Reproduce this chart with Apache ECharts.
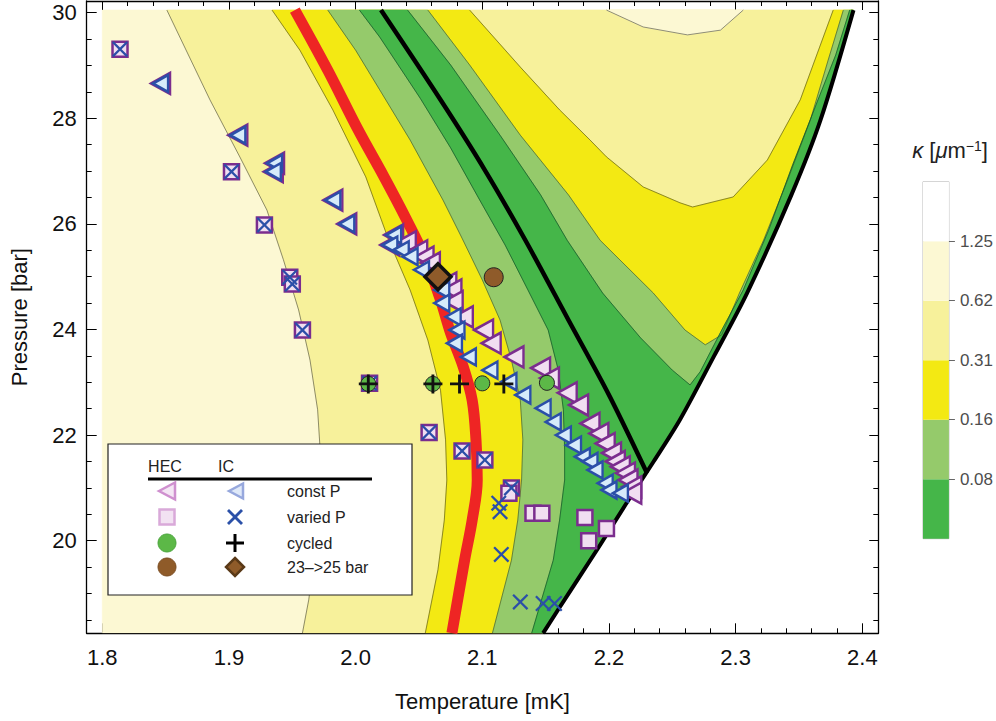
<!DOCTYPE html>
<html><head><meta charset="utf-8">
<script src="https://cdn.jsdelivr.net/npm/echarts@6/dist/echarts.min.js"></script>
<style>html,body{margin:0;padding:0;background:#fff}#c{width:996px;height:721px}</style>
</head><body><div id="c"></div><script>
// ---------- axis ranges & ticks ----------
const X_MIN = 1.7877, X_MAX = 2.4126, Y_MIN = 18.246, Y_MAX = 30.222;
const xMajor = [1.8, 1.9, 2.0, 2.1, 2.2, 2.3, 2.4];
const yMajor = [20, 22, 24, 26, 28, 30];
const cbLabels = ['0.08', '0.16', '0.31', '0.62', '1.25'];
const cbColors = ['#45b649', '#95ca6b', '#f3e913', '#f7f19b', '#fcf8d3', '#ffffff'];
const cbSegments = [1, 1, 1, 1, 1, 1];

// ---------- contour lines (T [mK], P [bar]) ----------
const boundary = [[2.148,18.25],[2.170,19.07],[2.192,19.88],[2.213,20.68],[2.235,21.49],[2.256,22.29],[2.283,23.50],[2.309,24.69],[2.344,26.55],[2.367,27.97],[2.393,30.05]];
const c062L = [[1.851,30.05],[1.868,29.20],[1.885,28.35],[1.909,27.25],[1.930,26.26],[1.943,25.32],[1.955,24.37],[1.964,23.42],[1.970,22.48],[1.972,21.72],[1.970,20.77],[1.967,19.63],[1.963,18.88],[1.958,18.25]];
const c031L = [[1.934,30.05],[1.956,29.29],[1.982,28.16],[2.008,26.89],[2.026,25.70],[2.043,24.75],[2.057,23.80],[2.067,22.85],[2.071,21.91],[2.072,21.15],[2.070,20.39],[2.065,19.45],[2.055,18.25]];
const c016L = [[1.978,30.05],[2.000,29.29],[2.019,28.54],[2.043,27.59],[2.069,26.45],[2.084,25.73],[2.100,24.94],[2.114,24.18],[2.123,23.42],[2.130,22.66],[2.132,21.91],[2.131,21.15],[2.128,20.39],[2.123,19.63],[2.108,18.25]];
const c008L = [[2.003,30.05],[2.019,29.54],[2.051,28.38],[2.075,27.44],[2.098,26.45],[2.118,25.60],[2.136,24.75],[2.152,23.99],[2.160,23.23],[2.164,22.48],[2.165,21.72],[2.165,21.15],[2.161,20.39],[2.156,19.63],[2.139,18.25]];
const c062R = [[2.198,30.05],[2.227,29.73],[2.262,29.58],[2.288,29.67],[2.306,30.05]];
const c031R = [[2.090,30.05],[2.130,28.97],[2.161,28.16],[2.185,27.59],[2.198,27.27],[2.227,26.70],[2.256,26.40],[2.266,26.32],[2.298,26.51],[2.325,27.21],[2.351,28.35],[2.377,30.05]];
const c016R = [[2.057,30.05],[2.090,29.01],[2.130,27.68],[2.168,26.55],[2.193,25.69],[2.235,24.69],[2.260,23.99],[2.276,23.71],[2.289,23.90],[2.303,24.69],[2.322,25.69],[2.341,26.83],[2.359,27.97],[2.373,29.10],[2.385,30.05]];
const c008R = [[2.041,30.05],[2.075,29.01],[2.114,27.68],[2.146,26.55],[2.167,25.69],[2.195,24.69],[2.225,23.84],[2.250,23.23],[2.264,22.95],[2.272,23.20],[2.289,23.99],[2.306,24.75],[2.326,25.88],[2.345,27.12],[2.365,28.35],[2.379,29.20],[2.390,30.05]];
const blackLine = [[2.020,30.05],[2.067,28.35],[2.102,27.02],[2.134,25.69],[2.168,24.18],[2.200,22.76],[2.230,21.28]];
const redLine = [[1.952,30.05],[1.978,28.91],[2.002,27.78],[2.022,26.91],[2.040,26.09],[2.055,25.35],[2.067,24.56],[2.075,23.93],[2.085,23.29],[2.092,22.66],[2.095,21.91],[2.096,21.15],[2.092,20.39],[2.086,19.63],[2.076,18.25]];

// ---------- measured points ----------
const hecConstP = [[1.846,28.66],[1.907,27.68],[1.936,27.15],[1.935,26.99],[1.982,26.45],[1.993,26.00],[2.030,25.79],[2.027,25.60],
  [2.040,25.66],[2.049,25.49],[2.054,25.37],[2.059,25.26],[2.072,24.88],[2.076,24.75],[2.077,24.53],[2.085,24.24],[2.101,23.99],[2.107,23.74],[2.125,23.48],[2.146,23.27],[2.153,23.08],[2.167,22.80],[2.176,22.57],[2.185,22.22],[2.192,22.03],[2.197,21.84],[2.202,21.66],[2.205,21.50],[2.209,21.40],[2.213,21.28],[2.215,21.15],[2.218,21.02],[2.218,20.90]];
const icConstP = [[1.846,28.66],[1.907,27.68],[1.936,27.15],[1.935,26.99],[1.982,26.45],[1.993,26.00],[2.030,25.79],[2.027,25.60],
  [2.036,25.51],[2.043,25.38],[2.052,25.13],[2.068,24.75],[2.068,24.50],[2.077,24.24],[2.080,23.99],[2.078,23.74],[2.089,23.48],[2.106,23.23],[2.121,23.01],[2.132,22.76],[2.148,22.51],[2.156,22.25],[2.164,22.00],[2.172,21.81],[2.179,21.59],[2.185,21.50],[2.189,21.34],[2.197,21.09],[2.200,20.96],[2.209,20.90]];
const hecVariedP = [[1.814,29.31],[1.902,26.99],[1.928,25.98],[1.948,24.99],[1.950,24.86],[1.958,23.99],[2.011,22.98],[2.058,22.05],[2.084,21.70],[2.102,21.53],[2.123,21.00],[2.121,20.90],[2.140,20.52],[2.147,20.52],[2.181,20.44],[2.184,20.00],[2.198,20.23]];
const icVariedP = [[1.814,29.31],[1.902,26.99],[1.928,25.98],[1.948,24.99],[1.950,24.86],[1.958,23.99],[2.011,22.98],[2.058,22.05],[2.084,21.70],[2.102,21.53],[2.123,21.00],[2.113,20.71],[2.114,20.55],[2.115,19.74],[2.130,18.84],[2.148,18.81],[2.157,18.81]];
const hecCycled = [[2.010,22.97],[2.061,22.97],[2.100,22.98],[2.151,22.99]];
const icCycled = [[2.010,22.97],[2.061,22.97],[2.082,22.97],[2.117,22.97]];
const hec2325 = [[2.109,24.99]];
const ic2325 = [[2.065,25.00]];

// ---------- helpers ----------
const FONT = 'Liberation Sans, Arial, sans-serif';
function range(a, b, s) { const r = []; for (let v = a; v <= b + 1e-9; v += s) r.push(+v.toFixed(4)); return r; }
const xMinor = range(1.8, 2.4, 0.02).filter(v => !xMajor.some(m => Math.abs(m - v) < 1e-6));
const yMinor = range(18.5, 30, 0.5).filter(v => !yMajor.some(m => Math.abs(m - v) < 1e-6));
const rev = a => a.slice().reverse();
const cbTicks = cbLabels.map((_, i) => cbSegments.slice(0, i + 1).reduce((a, b) => a + b, 0));

const domainPoly = [[1.8,18.25],[1.8,30.05]].concat(rev(boundary));
const poly062 = c062L.concat(boundary);
const poly031 = c031L.concat(boundary, rev(c031R));
const poly016 = c016L.concat(boundary, rev(c016R));
const poly008 = c008L.concat(boundary, rev(c008R));

function polySeries(points, color) {
  return { type: 'custom', xAxisIndex: 0, yAxisIndex: 0, silent: true, clip: true, data: [[2.0, 24]],
    renderItem: (p, api) => ({ type: 'polygon', shape: { points: points.map(pt => api.coord(pt)) },
      style: { fill: color, stroke: color, lineWidth: 0.6 } }) };
}
function lineSeries(data, color, width, z, smooth) {
  return { type: 'line', data: data, symbol: 'none', silent: true, z: z || 3, clip: true, smooth: smooth || false,
    lineStyle: { color: color, width: width, cap: 'butt', join: 'round' } };
}
const triPath = 'path://M0,10 L18,0 L18,20 Z';
const xPath = 'path://M0,2 L2,0 L10,8 L18,0 L20,2 L12,10 L20,18 L18,20 L10,12 L2,20 L0,18 L8,10 Z';
const plusPath = 'path://M8.5,0 H11.5 V8.5 H20 V11.5 H11.5 V20 H8.5 V11.5 H0 V8.5 H8.5 Z';

function tickAxis(pos, isX, vals, len, withLine) {
  return { type: 'value', gridIndex: 0, position: pos, min: isX ? X_MIN : Y_MIN, max: isX ? X_MAX : Y_MAX,
    axisLine: { show: !!withLine, onZero: false, lineStyle: { color: '#000', width: 1.3 } },
    axisTick: { show: true, inside: true, length: len, customValues: vals, lineStyle: { color: '#000', width: 1 } },
    axisLabel: { show: false }, splitLine: { show: false } };
}

const xAxes = [
  Object.assign(tickAxis('bottom', true, xMajor, 10, true), {
    axisLabel: { show: true, customValues: xMajor, formatter: v => v.toFixed(1), fontSize: 22, color: '#111', fontFamily: FONT, margin: 13 },
    name: 'Temperature [mK]', nameLocation: 'middle', nameGap: 57,
    nameTextStyle: { fontSize: 22, color: '#111', fontFamily: FONT } }),
  tickAxis('bottom', true, xMinor, 5, false),
  tickAxis('top', true, xMajor, 9, true),
  tickAxis('top', true, xMinor, 5, false),
  { type: 'category', gridIndex: 1, data: [''], show: false }
];
const yAxes = [
  Object.assign(tickAxis('left', false, yMajor, 10, true), {
    axisLabel: { show: true, customValues: yMajor, formatter: v => String(Math.round(v)), fontSize: 22, color: '#111', fontFamily: FONT, margin: 10 },
    name: 'Pressure [bar]', nameLocation: 'middle', nameGap: 56,
    nameTextStyle: { fontSize: 22, color: '#111', fontFamily: FONT } }),
  tickAxis('left', false, yMinor, 5, false),
  tickAxis('right', false, yMajor, 9, true),
  tickAxis('right', false, yMinor, 5, false),
  { type: 'value', gridIndex: 1, position: 'right', min: 0, max: cbSegments.reduce((a, b) => a + b, 0),
    axisLine: { show: false },
    axisTick: { show: true, length: 6, customValues: cbTicks, lineStyle: { color: '#666' } },
    axisLabel: { show: true, customValues: cbTicks, margin: 11,
      formatter: v => cbLabels[cbTicks.findIndex(t => Math.abs(t - v) < 1e-6)], fontSize: 17, color: '#4d4d4d', fontFamily: FONT },
    splitLine: { show: false } }
];

const series = [
  polySeries(domainPoly, '#fcf8d3'),
  polySeries(poly062, '#f7f19b'),
  polySeries(c062R, '#fcf8d3'),
  polySeries(poly031, '#f3e913'),
  polySeries(poly016, '#95ca6b'),
  polySeries(poly008, '#45b649'),
  lineSeries(c062L, 'rgba(70,70,60,0.6)', 1),
  lineSeries(c031L, 'rgba(70,70,30,0.6)', 1),
  lineSeries(c016L, 'rgba(60,80,30,0.6)', 1),
  lineSeries(c008L, 'rgba(20,80,40,0.7)', 1),
  lineSeries(c062R, 'rgba(70,70,60,0.6)', 1),
  lineSeries(c031R, 'rgba(70,70,30,0.6)', 1),
  lineSeries(c016R, 'rgba(60,80,30,0.6)', 1),
  lineSeries(c008R, 'rgba(20,80,40,0.7)', 1),
  lineSeries(blackLine, '#000', 4.5, 4, 0.3),
  lineSeries(redLine, '#ee2524', 11, 4, 0.35),
  lineSeries(boundary, '#000', 4, 4, 0.3),
  { type: 'scatter', name: 'HEC const P', data: hecConstP, symbol: triPath, symbolSize: [19, 21], z: 5,
    itemStyle: { color: '#f1def1', borderColor: '#7b2d8e', borderWidth: 2.5, opacity: 1 } },
  { type: 'scatter', name: 'IC const P', data: icConstP, symbol: triPath, symbolSize: [15, 17], z: 6,
    itemStyle: { color: '#d6ebfa', borderColor: '#2b4fa8', borderWidth: 2.5, opacity: 1 } },
  { type: 'scatter', name: 'HEC varied P', data: hecVariedP, symbol: 'rect', symbolSize: 15, z: 7,
    itemStyle: { color: '#f1def1', borderColor: '#7b2d8e', borderWidth: 2.5, opacity: 1 } },
  { type: 'scatter', name: 'IC varied P', data: icVariedP, symbol: xPath, symbolSize: 16, z: 8,
    itemStyle: { color: '#2b4fa8', opacity: 1 } },
  { type: 'scatter', name: 'HEC cycled', data: hecCycled, symbol: 'circle', symbolSize: 15, z: 9,
    itemStyle: { color: '#5cb847', borderColor: '#222', borderWidth: 1, opacity: 1 } },
  { type: 'scatter', name: 'IC cycled', data: icCycled, symbol: plusPath, symbolSize: 19, z: 10,
    itemStyle: { color: '#111', opacity: 1 } },
  { type: 'scatter', name: 'HEC 23->25 bar', data: hec2325, symbol: 'circle', symbolSize: 19, z: 9,
    itemStyle: { color: '#8f5b2a', borderColor: '#222', borderWidth: 1, opacity: 1 } },
  { type: 'scatter', name: 'IC 23->25 bar', data: ic2325, symbol: 'diamond', symbolSize: 26, z: 10,
    itemStyle: { color: '#8f5b2a', borderColor: '#111', borderWidth: 3.5, opacity: 1 } }
];
cbSegments.forEach((s, i) => series.push({
  type: 'bar', xAxisIndex: 4, yAxisIndex: 4, stack: 'cb', data: [s], barWidth: '100%', silent: true,
  itemStyle: { color: cbColors[i] } }));

// ---------- legend box (graphic) ----------
const TXT = { fontSize: 16, fontFamily: FONT, fill: '#222', verticalAlign: 'middle' };
const legendBox = [
  { type: 'rect', shape: { x: 108, y: 444, width: 304, height: 151 }, style: { fill: '#fff', stroke: '#222', lineWidth: 1.2 } },
  { type: 'text', x: 165, y: 466, style: Object.assign({}, TXT, { text: 'HEC', align: 'center' }) },
  { type: 'text', x: 226, y: 466, style: Object.assign({}, TXT, { text: 'IC', align: 'center' }) },
  { type: 'line', shape: { x1: 148, y1: 479, x2: 372, y2: 479 }, style: { stroke: '#000', lineWidth: 3 } },
  { type: 'polygon', shape: { points: [[159, 491], [175, 482.5], [175, 499.5]] }, style: { fill: '#f4e6f4', stroke: '#cf90cf', lineWidth: 2.5 } },
  { type: 'polygon', shape: { points: [[229, 491], [243, 483.5], [243, 498.5]] }, style: { fill: '#dfe9f8', stroke: '#97a8dd', lineWidth: 2.5 } },
  { type: 'rect', shape: { x: 159.5, y: 509.5, width: 15, height: 15 }, style: { fill: '#f2e2f2', stroke: '#d9a9d9', lineWidth: 2.5 } },
  { type: 'line', shape: { x1: 228, y1: 510, x2: 242, y2: 524 }, style: { stroke: '#2b50a8', lineWidth: 2.8 } },
  { type: 'line', shape: { x1: 242, y1: 510, x2: 228, y2: 524 }, style: { stroke: '#2b50a8', lineWidth: 2.8 } },
  { type: 'circle', shape: { cx: 167, cy: 543, r: 9 }, style: { fill: '#5cb847', stroke: '#4aa53c', lineWidth: 1 } },
  { type: 'line', shape: { x1: 226, y1: 543, x2: 244, y2: 543 }, style: { stroke: '#000', lineWidth: 3 } },
  { type: 'line', shape: { x1: 235, y1: 534, x2: 235, y2: 552 }, style: { stroke: '#000', lineWidth: 3 } },
  { type: 'circle', shape: { cx: 167, cy: 567, r: 9 }, style: { fill: '#8f5b29', stroke: '#7a4b20', lineWidth: 1 } },
  { type: 'polygon', shape: { points: [[235, 558], [244, 567], [235, 576], [226, 567]] }, style: { fill: '#8f5b29', stroke: '#5a3a18', lineWidth: 2.5 } },
  { type: 'text', x: 287, y: 491, style: Object.assign({}, TXT, { text: 'const P' }) },
  { type: 'text', x: 287, y: 517, style: Object.assign({}, TXT, { text: 'varied P' }) },
  { type: 'text', x: 287, y: 543, style: Object.assign({}, TXT, { text: 'cycled' }) },
  { type: 'text', x: 287, y: 567, style: Object.assign({}, TXT, { text: '23\u2013>25 bar' }) },
  { type: 'text', x: 950, y: 150, style: {
      text: '{i|\u03ba} [{i|\u03bc}m{s|\u22121}]', align: 'center', verticalAlign: 'middle', fontFamily: FONT, fontSize: 22, fill: '#222',
      rich: { i: { fontStyle: 'italic', fontSize: 22, fontFamily: FONT, fill: '#222' }, s: { fontSize: 14, fontFamily: FONT, fill: '#222', verticalAlign: 'top', padding: [0, 0, 9, 0] } } } }
].map(e => Object.assign(e, { z: 100, silent: true }));

const chart = echarts.init(document.getElementById('c'), null, { renderer: 'svg', width: 996, height: 721 });
chart.setOption({
  animation: false,
  backgroundColor: '#fff',
  grid: [
    { left: 86.7, right: 117.7, top: 1, bottom: 87.7, show: false },
    { left: 923, width: 26, top: 181.7, height: 357, show: true, borderColor: '#bbb', borderWidth: 1 }
  ],
  xAxis: xAxes,
  yAxis: yAxes,
  series: series,
  graphic: { elements: legendBox }
});
</script></body></html>
